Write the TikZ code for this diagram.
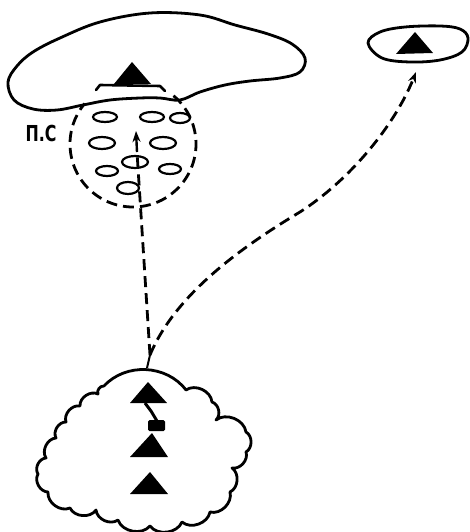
\documentclass[tikz,border=0pt]{standalone}
\usepackage{fontspec}
\newfontfamily\labfont{DejaVu Sans}
\usetikzlibrary{arrows.meta}
\begin{document}
\begin{tikzpicture}[x=1pt,y=1pt,
  outline/.style={line width=2.8pt, line join=round, line cap=round},
  route/.style={line width=2.8pt, dash pattern=on 11pt off 6pt},
  oval/.style={line width=2.2pt},
  tri/.style={fill=black},
  tipst/.style={-{Stealth[length=11pt,width=8pt]}}]
\useasboundingbox (0,0) rectangle (470,-532);
% big area
\draw[outline] plot[smooth cycle, tension=0.6] coordinates {(8,-82) (17,-66) (33,-52) (60,-38) (100,-22) (150,-13) (200,-15) (235,-25) (268,-34) (292,-44) (305,-58) (300,-72) (280,-78) (250,-81) (225,-85) (200,-92) (180,-100) (160,-98) (140,-98) (110,-100) (83,-105) (57,-110) (33,-109) (14,-100)};
\fill[tri] (114,-84) -- (132,-62) -- (151,-84) -- cycle;
\draw[line width=2.6pt, line cap=round, line join=round] (96,-90) -- (100,-85) -- (160,-86) -- (165,-91);
% dashed circle
\draw[route] (133,-144) ++(50:63) arc[start angle=50,end angle=-220,radius=63];
% ellipses
\draw[oval] (105,-117) ellipse[x radius=12, y radius=5];
\draw[oval] (152,-117) ellipse[x radius=12, y radius=5];
\draw[oval] (180,-118) ellipse[x radius=10, y radius=5];
\draw[oval] (102,-143) ellipse[x radius=13, y radius=6];
\draw[oval] (163,-143) ellipse[x radius=13, y radius=6];
\draw[oval] (135,-162) ellipse[x radius=13, y radius=6];
\draw[oval] (107,-171) ellipse[x radius=11, y radius=5];
\draw[oval] (170,-169) ellipse[x radius=11, y radius=5];
\draw[oval] (128,-188) ellipse[x radius=11, y radius=6];
\node[font=\labfont\bfseries\fontsize{22}{24}\selectfont, xscale=0.72, inner sep=0] (ps) at (41,-133) {П.С};
% small area top right
\draw[outline] plot[smooth cycle, tension=0.6] coordinates {(368,-43) (380,-32) (405,-27) (440,-26) (460,-29) (468,-38) (462,-52) (440,-60) (410,-62) (382,-58)};
\fill[tri] (396,-54) -- (415,-32) -- (433,-53) -- cycle;
% cloud
\draw[outline] (104,-386) to[bend left=50] (186,-390) to[bend left=60] (212,-402)
  to[bend left=60] (216,-420) to[bend left=60] (246,-432) to[bend left=60] (246,-452)
  to[bend left=60] (232,-468) to[bend left=60] (230,-492) to[bend left=60] (210,-512)
  to[bend left=60] (182,-522) to[bend left=60] (150,-526) to[bend left=60] (118,-520)
  to[bend left=60] (96,-510) to[bend left=60] (70,-508) to[bend left=60] (48,-492)
  to[bend left=60] (38,-474) to[bend left=60] (46,-458) to[bend left=60] (56,-438)
  to[bend left=60] (66,-422) to[bend left=60] (80,-406) to[bend left=60] (98,-394)
  to[bend left=60] (104,-386);
\fill[tri] (130,-403) -- (148,-382) -- (167,-403) -- cycle;
\draw[line width=3pt, line join=round] (145,-403) -- (151,-411) -- (157,-421);
\fill[rounded corners=1.5pt] (148,-420) rectangle (165,-431);
\fill[tri] (130,-457) -- (152,-433) -- (168,-457) -- cycle;
\fill[tri] (130,-494) -- (150,-472) -- (168,-494) -- cycle;
% routes
\coordinate (junc) at (150,-355);
\coordinate (stem) at (147,-368);
\coordinate (shaft) at (137,-152);
\coordinate (tipA) at (136,-131);
\coordinate (tipB) at (416,-72);
\draw[line width=2pt] (junc) -- (stem);
\draw[route] (junc) -- (shaft);
\draw[line width=2.4pt, tipst] (shaft) -- (tipA);
\draw[route, tipst] (junc) .. controls (175,-295) and (240,-248) .. (300,-212) .. controls (350,-180) and (395,-125) .. (tipB);
\end{tikzpicture}
\end{document}
